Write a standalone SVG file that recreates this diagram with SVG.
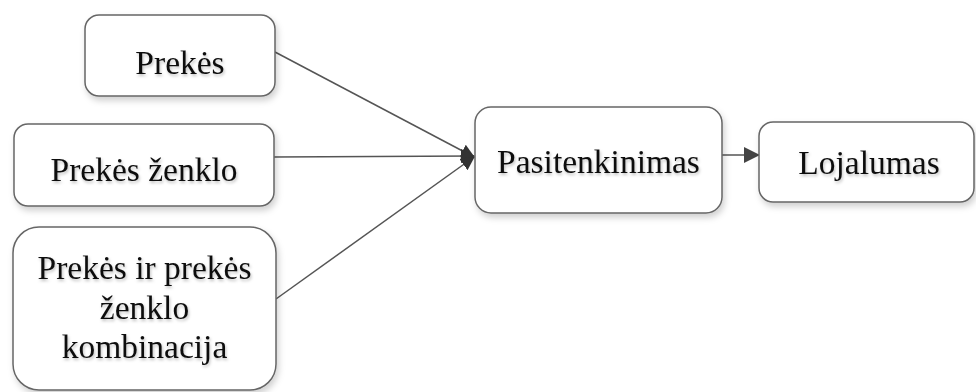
<svg xmlns="http://www.w3.org/2000/svg" width="976" height="392" viewBox="0 0 976 392">
<defs>
<filter id="sh" x="-10%" y="-10%" width="130%" height="140%">
<feDropShadow dx="2" dy="4" stdDeviation="3" flood-color="#000" flood-opacity="0.18"/>
</filter>
<filter id="ts" x="-10%" y="-20%" width="120%" height="150%">
<feDropShadow dx="1" dy="2" stdDeviation="1.5" flood-color="#000" flood-opacity="0.25"/>
</filter>
<marker id="ah" viewBox="0 0 14 14" refX="13" refY="7" markerWidth="14" markerHeight="14" markerUnits="userSpaceOnUse" orient="auto">
<path d="M0,0 L14,7 L0,14 Z" fill="#333"/>
</marker>
<marker id="ah2" viewBox="0 0 16 16" refX="15" refY="8" markerWidth="16" markerHeight="16" markerUnits="userSpaceOnUse" orient="auto">
<path d="M0,0 L16,8 L0,16 Z" fill="#444"/>
</marker>
</defs>
<style>
.box{fill:#fff;stroke:#666;stroke-width:1.5;filter:url(#sh)}
.t{font-family:"Liberation Serif","Times New Roman",serif;font-size:33.5px;fill:#111;text-anchor:middle;filter:url(#ts)}
.c{stroke:#555;stroke-width:1.5;fill:none}
</style>
<g id="connectors">
<line class="c" x1="275" y1="52" x2="474" y2="157" marker-end="url(#ah)"/>
<line class="c" x1="274" y1="157" x2="474" y2="156" marker-end="url(#ah)"/>
<line class="c" x1="276" y1="299" x2="474" y2="157" marker-end="url(#ah)"/>
<line class="c" x1="722" y1="155" x2="759" y2="155" marker-end="url(#ah2)"/>
</g>
<g id="n1">
<rect class="box" x="85" y="15" width="190" height="81" rx="14"/>
<text class="t" x="180" y="74">Prekės</text>
</g>
<g id="n2">
<rect class="box" x="14" y="124" width="260" height="82" rx="14"/>
<text class="t" x="144" y="181">Prekės ženklo</text>
</g>
<g id="n3">
<rect class="box" x="13" y="227" width="263" height="163" rx="26"/>
<text class="t" x="144.5" y="279">Prekės ir prekės</text>
<text class="t" x="144.5" y="319">ženklo</text>
<text class="t" x="144.5" y="358">kombinacija</text>
</g>
<g id="n4">
<rect class="box" x="475" y="107" width="247" height="106" rx="16"/>
<text class="t" x="598.5" y="173">Pasitenkinimas</text>
</g>
<g id="n5">
<rect class="box" x="759" y="122" width="215" height="80" rx="14"/>
<text class="t" x="869" y="174">Lojalumas</text>
</g>
</svg>
